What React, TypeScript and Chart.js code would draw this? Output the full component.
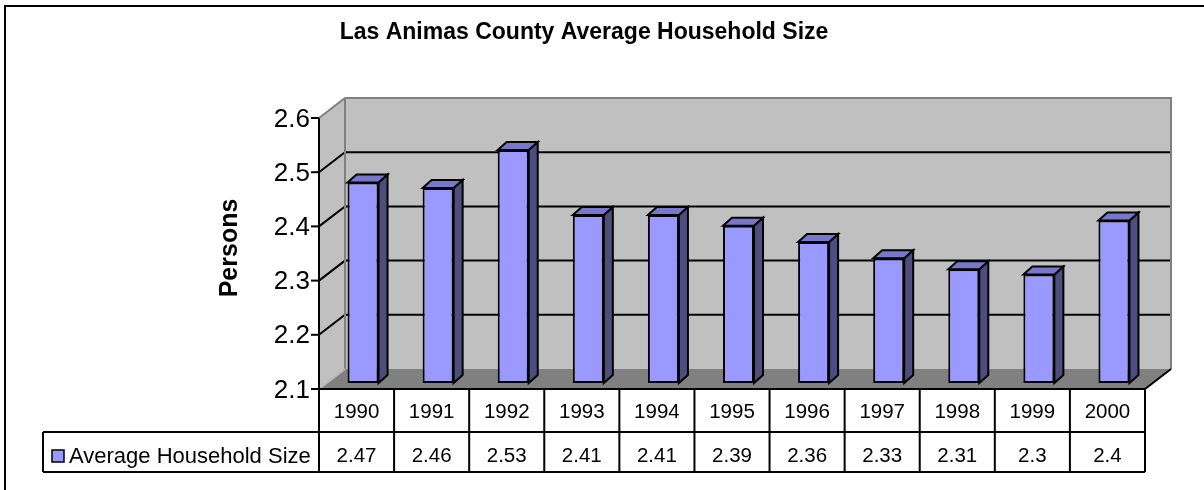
import React, { useEffect, useRef } from "react";
import { Chart, registerables } from "chart.js";

Chart.register(...registerables);

const chartTitle = "Las Animas County Average Household Size";
const yAxisTitle = "Persons";
const seriesName = "Average Household Size";
const years = ["1990", "1991", "1992", "1993", "1994", "1995", "1996", "1997", "1998", "1999", "2000"];
const householdSize = [2.47, 2.46, 2.53, 2.41, 2.41, 2.39, 2.36, 2.33, 2.31, 2.3, 2.4];
const yTickValues = [2.1, 2.2, 2.3, 2.4, 2.5, 2.6];
const Y_MIN = 2.1;
const Y_MAX = 2.6;

const FONT = '"Liberation Sans", Arial, Helvetica, sans-serif';
const FRONT_COLOR = "#9999ff";
const SIDE_COLOR = "#4d4d80";
const TOP_COLOR = "#7777cc";
const WALL_COLOR = "#c0c0c0";
const FLOOR_COLOR = "#808080";
const WALL_EDGE = "#808080";

// plane offsets relative to bar plane (chart area)
const FX = -6.5, FY = 6;
const BX = 19.5, BY = -14;
const DX = 9, DY = -8;

const excel3d = {
  id: "excel3d",
  beforeDraw(chart: any) {
    const ctx = chart.ctx;
    ctx.save();
    ctx.fillStyle = "#ffffff";
    ctx.fillRect(0, 0, chart.width, chart.height);
    ctx.restore();
  },
  beforeDatasetsDraw(chart: any) {
    const ctx = chart.ctx;
    const area = chart.chartArea;
    const ys = chart.scales.y;
    const yF = (v: number) => ys.getPixelForValue(v) + FY;
    const yB = (v: number) => ys.getPixelForValue(v) + BY;
    const fL = area.left + FX, fR = area.right + FX;
    const bL = area.left + BX, bR = area.right + BX;
    ctx.save();
    // back wall
    ctx.fillStyle = WALL_COLOR;
    ctx.fillRect(bL, yB(Y_MAX), bR - bL, yB(Y_MIN) - yB(Y_MAX));
    // left wall
    ctx.beginPath();
    ctx.moveTo(fL, yF(Y_MAX));
    ctx.lineTo(bL, yB(Y_MAX));
    ctx.lineTo(bL, yB(Y_MIN));
    ctx.lineTo(fL, yF(Y_MIN));
    ctx.closePath();
    ctx.fill();
    // floor
    ctx.fillStyle = FLOOR_COLOR;
    ctx.beginPath();
    ctx.moveTo(fL, yF(Y_MIN));
    ctx.lineTo(bL, yB(Y_MIN));
    ctx.lineTo(bR, yB(Y_MIN));
    ctx.lineTo(fR, yF(Y_MIN));
    ctx.closePath();
    ctx.fill();
    // gridlines
    ctx.strokeStyle = "#000000";
    ctx.lineWidth = 2;
    yTickValues.forEach((v) => {
      if (v <= Y_MIN || v >= Y_MAX) return;
      ctx.beginPath();
      ctx.moveTo(fL, yF(v));
      ctx.lineTo(bL, yB(v));
      ctx.lineTo(bR, yB(v));
      ctx.stroke();
    });
    // wall edges
    ctx.strokeStyle = WALL_EDGE;
    ctx.lineWidth = 2;
    ctx.beginPath();
    ctx.moveTo(fL, yF(Y_MAX));
    ctx.lineTo(bL, yB(Y_MAX));
    ctx.lineTo(bR, yB(Y_MAX));
    ctx.lineTo(bR, yB(Y_MIN));
    ctx.stroke();
    ctx.beginPath();
    ctx.moveTo(bL, yB(Y_MAX));
    ctx.lineTo(bL, yB(Y_MIN));
    ctx.stroke();
    ctx.strokeStyle = "#b8b8b8";
    ctx.beginPath();
    ctx.moveTo(fL, yF(Y_MIN));
    ctx.lineTo(bL, yB(Y_MIN));
    ctx.stroke();
    ctx.strokeStyle = "#000000";
    ctx.beginPath();
    ctx.moveTo(fR, yF(Y_MIN));
    ctx.lineTo(bR, yB(Y_MIN));
    ctx.stroke();
    ctx.restore();
  },
  afterDatasetsDraw(chart: any) {
    const ctx = chart.ctx;
    const area = chart.chartArea;
    const ys = chart.scales.y;
    const xs = chart.scales.x;
    const yF = (v: number) => ys.getPixelForValue(v) + FY;
    const fL = area.left + FX, fR = area.right + FX;
    ctx.save();
    // 3D bar sides and tops
    const meta = chart.getDatasetMeta(0);
    ctx.lineWidth = 2;
    ctx.strokeStyle = "#000000";
    ctx.lineJoin = "miter";
    meta.data.forEach((bar: any) => {
      const { x, y, base, width } = bar.getProps(["x", "y", "base", "width"], true);
      const l = x - width / 2, r = x + width / 2;
      ctx.fillStyle = SIDE_COLOR;
      ctx.beginPath();
      ctx.moveTo(r, y);
      ctx.lineTo(r + DX, y + DY);
      ctx.lineTo(r + DX, base + DY);
      ctx.lineTo(r, base);
      ctx.closePath();
      ctx.fill();
      ctx.stroke();
      ctx.fillStyle = TOP_COLOR;
      ctx.beginPath();
      ctx.moveTo(l, y);
      ctx.lineTo(l + DX, y + DY);
      ctx.lineTo(r + DX, y + DY);
      ctx.lineTo(r, y);
      ctx.closePath();
      ctx.fill();
      ctx.stroke();
    });

    // y axis
    ctx.strokeStyle = "#000000";
    ctx.lineWidth = 2;
    ctx.beginPath();
    ctx.moveTo(fL, yF(Y_MAX));
    ctx.lineTo(fL, yF(Y_MIN));
    ctx.stroke();
    ctx.fillStyle = "#000000";
    ctx.font = `26px ${FONT}`;
    ctx.textAlign = "right";
    ctx.textBaseline = "middle";
    yTickValues.forEach((v) => {
      const py = yF(v);
      ctx.beginPath();
      ctx.moveTo(fL - 8, py);
      ctx.lineTo(fL, py);
      ctx.stroke();
      ctx.fillText(v.toFixed(1), fL - 9, py + 1.5);
    });

    // y axis title
    ctx.save();
    ctx.font = `bold 25px ${FONT}`;
    ctx.textAlign = "center";
    ctx.textBaseline = "alphabetic";
    ctx.translate(237, 248);
    ctx.rotate(-Math.PI / 2);
    ctx.fillText(yAxisTitle, 0, 0);
    ctx.restore();

    // data table
    const colW = (area.right - area.left) / years.length;
    const tTop = yF(Y_MIN);
    const rowMid = 432;
    const tBot = 472;
    const legL = 43;
    ctx.beginPath();
    ctx.moveTo(fL, tTop);
    ctx.lineTo(fR, tTop);
    ctx.moveTo(legL, rowMid);
    ctx.lineTo(fR, rowMid);
    ctx.moveTo(legL, tBot);
    ctx.lineTo(fR, tBot);
    ctx.moveTo(legL, rowMid);
    ctx.lineTo(legL, tBot);
    for (let i = 0; i <= years.length; i++) {
      const bx = fL + i * colW;
      ctx.moveTo(bx, tTop);
      ctx.lineTo(bx, tBot);
    }
    ctx.stroke();

    ctx.textAlign = "center";
    ctx.textBaseline = "middle";
    ctx.font = `20.5px ${FONT}`;
    years.forEach((yr, i) => {
      const cx = xs.getPixelForValue(i) + FX;
      ctx.fillText(yr, cx, 412);
      ctx.fillText(String(householdSize[i]), cx, 456);
    });

    // legend key
    ctx.fillStyle = FRONT_COLOR;
    ctx.fillRect(52, 450, 12, 12);
    ctx.lineWidth = 1.5;
    ctx.strokeRect(52, 450, 12, 12);
    ctx.fillStyle = "#000000";
    ctx.textAlign = "left";
    ctx.font = `22px ${FONT}`;
    ctx.fillText(seriesName, 69, 457);

    // title
    ctx.font = `bold 23px ${FONT}`;
    ctx.textAlign = "center";
    ctx.textBaseline = "alphabetic";
    ctx.fillText(chartTitle, 584, 39);

    // outer border
    ctx.lineWidth = 2;
    ctx.strokeRect(5, 6, 1400, 700);
    ctx.restore();
  },
};

export default function App() {
  const canvasRef = useRef<HTMLCanvasElement | null>(null);
  useEffect(() => {
    const canvas = canvasRef.current;
    if (!canvas) return;
    const chart = new Chart(canvas, {
      type: "bar",
      data: {
        labels: years,
        datasets: [
          {
            label: seriesName,
            data: householdSize,
            backgroundColor: FRONT_COLOR,
            borderColor: "#000000",
            borderWidth: 2,
            borderSkipped: false,
            barPercentage: 0.413,
            categoryPercentage: 1,
            base: Y_MIN,
          } as any,
        ],
      },
      options: {
        responsive: false,
        animation: false,
        devicePixelRatio: 1,
        layout: { padding: { left: 325.5, right: 52.5, top: 112, bottom: 107 } },
        scales: {
          x: { display: false },
          y: { display: false, min: Y_MIN, max: Y_MAX, ticks: { stepSize: 0.1 } },
        },
        plugins: {
          legend: { display: false },
          tooltip: { enabled: false },
          title: { display: false },
        },
      },
      plugins: [excel3d],
    });
    return () => chart.destroy();
  }, []);
  return (
    <div style={{ position: "fixed", left: 0, top: 0, width: 1204, height: 490, background: "#fff" }}>
      <canvas ref={canvasRef} width={1204} height={490} style={{ display: "block" }} />
    </div>
  );
}
